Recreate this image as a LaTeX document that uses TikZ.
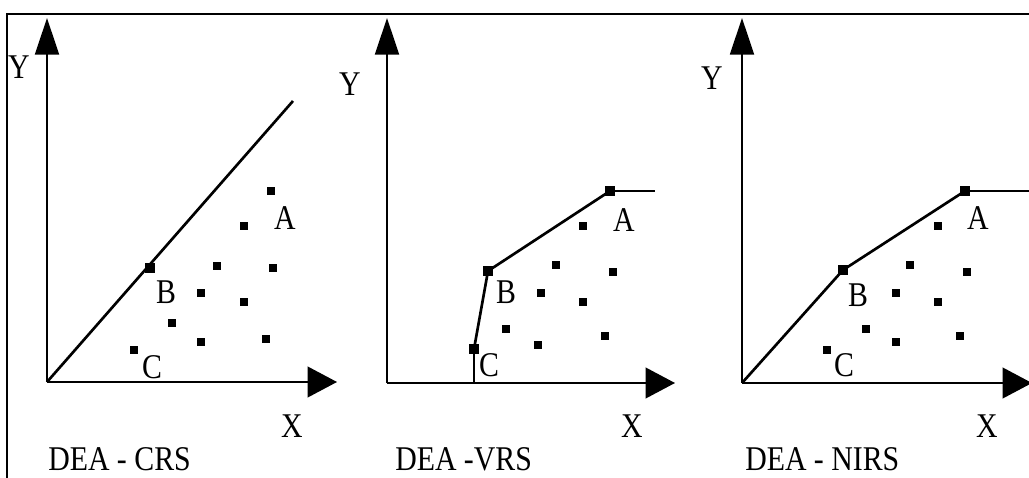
\documentclass[tikz,border=0pt]{standalone}
\usepackage{fontspec}
\setmainfont{Liberation Serif}
\usetikzlibrary{arrows.meta}

\newcommand{\narrow}[1]{\scalebox{0.86}[1]{#1}}

\begin{document}
\begin{tikzpicture}[x=0.75pt,y=-0.75pt,
  axis/.style={line width=1.4pt},
  yaxis/.style={axis,-{Triangle[length=27.5pt,width=18pt]}},
  xaxis/.style={axis,-{Triangle[length=22pt,width=23pt]}},
  front/.style={line width=2pt},
  dot/.style={fill=black,inner sep=0pt,minimum size=6.2pt},
  hull/.style={dot,minimum size=7pt},
  lbl/.style={inner sep=0pt,font=\fontsize{26}{28}\selectfont}]
 	\useasboundingbox (0,0) rectangle (1029,478);
 	\draw[line width=1.5pt] (7,480) -- (7,14) -- (1031,14);
 	% DEA - CRS
 	\coordinate (o1) at (47,382);
 	\coordinate (y1) at (47,18);
 	\coordinate (x1) at (337,382);
 	\coordinate (r1) at (293,101);
 	\draw[yaxis] (o1) -- (y1);
 	\draw[xaxis] (o1) -- (x1);
 	\draw[front] (o1) -- (r1);
 	\node[hull] (b1) at (150,268) {};
 	\node[dot] (a1) at (271,191) {};
 	\node[dot] (c1) at (134,350) {};
 	\foreach \p [count=\i] in {(244,226),(217,266),(273,268),(201,293),(244,302),(172,323),(201,342),(266,339)}
 		\node[dot] (p1\i) at \p {};
 	\node[lbl] (ya1) at (19,67) {\narrow{Y}};
 	\node[lbl] (xa1) at (292,426) {\narrow{X}};
 	\node[lbl] (la1) at (285,218) {\narrow{A}};
 	\node[lbl] (lb1) at (166,292) {\narrow{B}};
 	\node[lbl] (lc1) at (152,367) {\narrow{C}};
 	\node[lbl,anchor=base west] (t1) at (48,470) {\narrow{DEA - CRS}};
 	% DEA - VRS
 	\coordinate (o2) at (387,383);
 	\coordinate (y2) at (387,18);
 	\coordinate (x2) at (675,383);
 	\coordinate (f2) at (474,383);
 	\coordinate (e2) at (655,191);
 	\draw[yaxis] (o2) -- (y2);
 	\draw[xaxis] (o2) -- (x2);
 	\node[hull] (c2) at (474,349) {};
 	\node[hull] (b2) at (488,271) {};
 	\node[hull] (a2) at (610,191) {};
 	\draw[line width=1pt] (f2) -- (c2.center);
 	\draw[front] (c2.center) -- (b2.center) -- (a2.center);
 	\draw[line width=1.2pt] (a2.center) -- (e2);
 	\foreach \p [count=\i] in {(583,226),(556,265),(613,272),(541,293),(583,302),(506,329),(538,345),(605,336)}
 		\node[dot] (p2\i) at \p {};
 	\node[lbl] (ya2) at (350,84) {\narrow{Y}};
 	\node[lbl] (xa2) at (632,426) {\narrow{X}};
 	\node[lbl] (la2) at (624,220) {\narrow{A}};
 	\node[lbl] (lb2) at (506,292) {\narrow{B}};
 	\node[lbl] (lc2) at (489,365) {\narrow{C}};
 	\node[lbl,anchor=base west] (t2) at (395,470) {\narrow{DEA -VRS}};
 	% DEA - NIRS
 	\coordinate (o3) at (742,383);
 	\coordinate (y3) at (742,18);
 	\coordinate (x3) at (1032,383);
 	\coordinate (e3) at (1040,191);
 	\draw[yaxis] (o3) -- (y3);
 	\draw[xaxis] (o3) -- (x3);
 	\node[hull] (b3) at (843,270) {};
 	\node[hull] (a3) at (965,191) {};
 	\node[dot] (c3) at (827,350) {};
 	\draw[front] (o3) -- (b3.center) -- (a3.center);
 	\draw[line width=1.2pt] (a3.center) -- (e3);
 	\foreach \p [count=\i] in {(938,226),(910,265),(967,272),(896,293),(938,302),(866,329),(896,342),(960,336)}
 		\node[dot] (p3\i) at \p {};
 	\node[lbl] (ya3) at (712,78) {\narrow{Y}};
 	\node[lbl] (xa3) at (987,426) {\narrow{X}};
 	\node[lbl] (la3) at (978,218) {\narrow{A}};
 	\node[lbl] (lb3) at (858,295) {\narrow{B}};
 	\node[lbl] (lc3) at (844,365) {\narrow{C}};
 	\node[lbl,anchor=base west] (t3) at (745,470) {\narrow{DEA - NIRS}};
\end{tikzpicture}
\end{document}
